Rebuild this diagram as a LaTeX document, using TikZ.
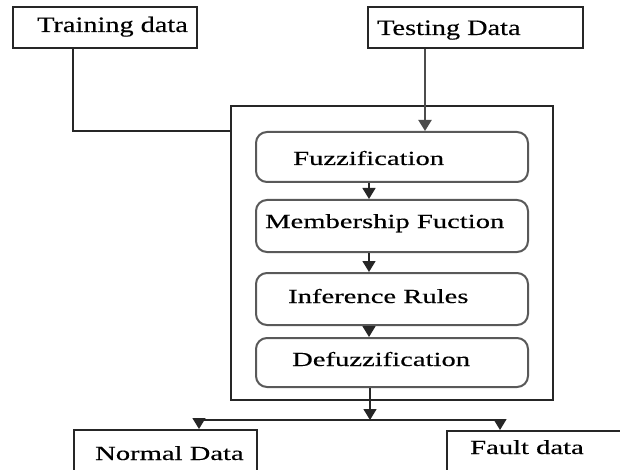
\documentclass[tikz,border=0pt]{standalone}
\usepackage{fontspec}
\setmainfont{Liberation Serif}[FakeBold=0.3]
\usepackage{graphicx}
\usetikzlibrary{arrows.meta}
\tikzset{
  plainbox/.style={draw=black!85, line width=2pt, rectangle, inner sep=0pt},
  outerbox/.style={draw=black!85, line width=1.5pt, rectangle, inner sep=0pt},
  stagebox/.style={draw=black!65, line width=2pt, rounded corners=11pt, rectangle, inner sep=0pt, minimum width=272pt},
  lbl/.style={anchor=base west, inner sep=0pt, font=\fontsize{10}{12}\selectfont, text=black},
  conn/.style={draw=black!85, line width=1.5pt},
  arr/.style={conn, -{Triangle[width=13pt,length=11pt]}},
}
\newcommand{\bigt}[1]{\scalebox{2.83}[2.2]{#1}}
\newcommand{\midt}[1]{\scalebox{2.86}[2.0]{#1}}
\begin{document}
\begin{tikzpicture}[x=1pt,y=-1pt]
\useasboundingbox (0,0) rectangle (620,470);
\fill[white] (0,0) rectangle (620,470);
% boxes
\node[plainbox, minimum width=184pt, minimum height=41pt] (train) at (105,27.5) {};
\node[plainbox, minimum width=215pt, minimum height=41pt] (test) at (475.5,27.5) {};
\node[outerbox, minimum width=322pt, minimum height=294pt] (outer) at (392,253) {};
\node[stagebox, minimum height=50pt] (fuzz) at (392,157) {};
\node[stagebox, minimum height=52pt] (memb) at (392,226) {};
\node[stagebox, minimum height=52pt] (infer) at (392,299) {};
\node[stagebox, minimum height=49pt] (defuzz) at (392,362.5) {};
\node[plainbox, minimum width=183pt, minimum height=70pt] (normal) at (165.5,465) {};
\node[plainbox, minimum width=200pt, minimum height=70pt] (fault) at (547,466) {};
% labels
\node[lbl] (ltrain) at (37,32) {\bigt{Training data}};
\node[lbl] (ltest) at (377,35) {\bigt{Testing Data}};
\node[lbl] (lfuzz) at (293,165) {\midt{Fuzzification}};
\node[lbl] (lmemb) at (265,228) {\midt{Membership Fuction}};
\node[lbl] (linfer) at (288,303) {\midt{Inference Rules}};
\node[lbl] (ldefuzz) at (292,366) {\midt{Defuzzification}};
\node[lbl] (lnormal) at (95,460) {\midt{Normal Data}};
\node[lbl] (lfault) at (470,454) {\midt{Fault data}};
% helper coordinates
\coordinate (tl) at (73,131);
\coordinate (ta) at (425,0);
\coordinate (ax) at (369,0);
\coordinate (junc) at (370,420);
\coordinate (jl) at (199,420);
\coordinate (jr) at (500,420);
% connectors
\draw[conn] (train.south -| tl) |- (outer.west |- tl);
\draw[arr, draw=black!70, line width=2pt] (test.south -| ta) -- (fuzz.north -| ta);
\draw[arr] (fuzz.south -| ax) -- (memb.north -| ax);
\draw[arr] (memb.south -| ax) -- (infer.north -| ax);
\draw[arr] (infer.south -| ax) -- (defuzz.north -| ax);
\draw[arr] (defuzz.south -| junc) -- (junc);
\draw[conn] (jl) -- (jr);
\draw[arr] (jl) -- (normal.north -| jl);
\draw[arr] (jr) -- (fault.north -| jr);
\end{tikzpicture}
\end{document}
